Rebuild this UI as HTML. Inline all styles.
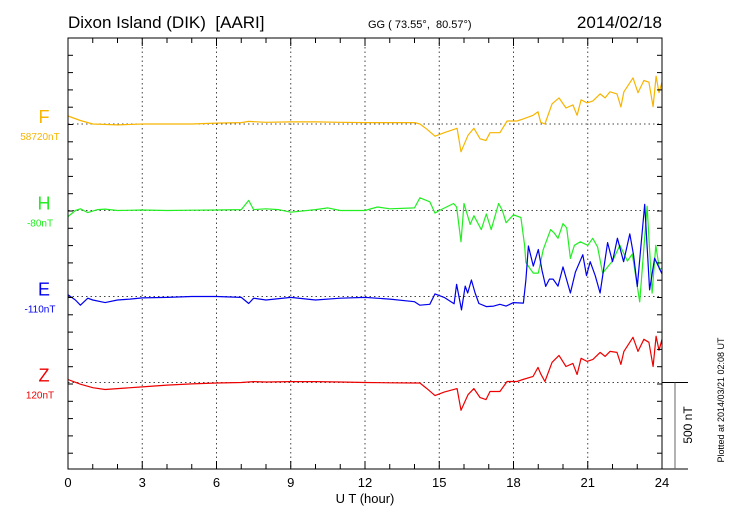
<!DOCTYPE html>
<html><head><meta charset="utf-8"><style>
body{margin:0;background:#fff;}
svg{display:block;font-family:"Liberation Sans",sans-serif;}
</style></head><body>
<svg id="chart" width="730" height="520" viewBox="0 0 730 520">
<text x="68" y="28" font-size="17" xml:space="preserve">Dixon Island (DIK)  [AARI]</text>
<text x="368" y="28" font-size="11" xml:space="preserve">GG ( 73.55°,  80.57°)</text>
<text x="662" y="28" font-size="17" text-anchor="end">2014/02/18</text>
<g id="grid"></g><g id="series"></g><g id="axes"></g>
<text x="365" y="503" font-size="13" text-anchor="middle">U T (hour)</text>
<text transform="translate(692,425) rotate(-90)" font-size="12" text-anchor="middle">500 nT</text>
<text transform="translate(724,400) rotate(-90)" font-size="9" text-anchor="middle">Plotted at 2014/03/21 02:08 UT</text>
</svg>
<script>
const NS="http://www.w3.org/2000/svg";
const hours=[0,3,6,9,12,15,18,21,24];
const compNames=["F","H","E","Z"];
const compBaseLabels=["58720nT","-80nT","-110nT","120nT"];
const compColors=["#f7b500","#22ee22","#0000ee","#ee0000"];
const baselines=[124,210.5,296.5,382.5];
const fT=[0,0.5,1,2,3,5,6,7,7.3,8,9,10,11,12,13,14,14.22,14.5,14.83,15.2,15.72,15.88,16.16,16.4,16.65,16.89,17.05,17.45,17.74,18.14,18.38,18.79,18.99,19.1,19.27,19.56,19.84,20.12,20.4,20.57,20.73,20.97,21.21,21.5,21.7,21.9,22.18,22.34,22.46,22.83,23.03,23.27,23.47,23.64,23.76,23.88,24];
const fV=[46,20,0,-5,0,0,5,8,15,10,12,12,10,8,8,8,0,-30,-70,-50,-25,-160,-65,-25,-85,-95,-50,-50,17,17,28,50,70,10,0,116,150,92,110,50,139,121,133,173,150,185,173,98,185,265,180,250,240,100,275,180,240];
const hT=[0,0.3,0.5,0.8,1.2,1.5,2,3,4,5,6,7,7.3,7.5,8,8.5,9,10,10.5,11,12,12.5,13,14,14.22,14.62,14.83,15,15.58,15.7,15.88,16,16.25,16.4,16.7,16.9,17.1,17.4,17.55,17.7,18,18.3,18.45,18.5,18.8,19,19.2,19.5,19.65,19.8,20,20.15,20.3,20.46,20.7,21,21.2,21.4,21.6,22,22.3,22.6,22.8,23.1,23.4,23.6,23.75,23.9,24];
const hV=[-35,0,10,-12,5,8,0,3,0,2,3,5,58,5,10,5,-10,5,15,0,0,20,10,15,73,50,-15,0,40,20,-180,40,-80,-30,-110,-20,-110,40,0,-70,-25,-40,-200,-300,-360,-360,-225,-110,-130,-160,-75,-100,-275,-200,-180,-200,-160,-210,-360,-290,-200,-290,-250,-525,25,-475,-200,-340,-330];
const eT=[0,0.3,0.5,0.8,1,1.5,2,2.5,3,4,5,6,7,7.3,7.5,8,9,10,11,12,13,14,14.22,14.62,14.83,15.2,15.6,15.7,15.9,16.05,16.15,16.3,16.45,16.6,16.9,17.2,17.45,17.7,18,18.4,18.5,18.6,18.8,19,19.15,19.3,19.45,19.6,19.8,20,20.3,20.5,20.8,20.95,21.1,21.3,21.5,21.8,22,22.2,22.45,22.7,22.85,23,23.3,23.5,23.7,24];
const eV=[10,-20,-50,-10,-20,-35,-20,-15,-8,-5,0,0,-5,-40,-10,-20,-5,-20,-10,-5,-15,-30,-50,-45,15,-5,-42,70,-77,60,20,95,20,-40,-58,-55,-45,-55,-35,-38,96,290,175,270,150,58,100,100,60,170,20,140,240,120,200,120,20,310,200,335,200,360,240,58,530,38,220,130];
const zT=[0,0.5,1,1.5,2,3,4,5,6,7,7.5,8,9,10,11,12,13,14,14.22,14.5,14.83,15.2,15.72,15.88,16.16,16.4,16.65,16.89,17.05,17.45,17.74,18.14,18.38,18.79,18.99,19.1,19.27,19.56,19.84,20.12,20.4,20.57,20.73,20.97,21.21,21.5,21.7,21.9,22.18,22.34,22.46,22.83,23.03,23.27,23.47,23.64,23.76,23.88,24];
const zV=[17,-10,-30,-40,-35,-25,-15,-8,-3,0,5,3,5,5,3,0,-2,-3,-3,-35,-75,-55,-35,-160,-70,-35,-87,-98,-52,-52,6,6,17,35,87,50,6,116,156,92,110,46,139,121,133,173,150,179,173,104,179,260,179,248,231,92,266,185,248];
const allT=[fT,hT,eT,zT], allV=[fV,hV,eV,zV];
const X0=68,X1=662,Y0=38,Y1=469,PXNT=87/500;
const xs=h=>X0+(X1-X0)*h/24;
const ys=(i,v)=>baselines[i]-v*PXNT;
function mk(tag,attrs,parent){const e=document.createElementNS(NS,tag);for(const k in attrs)e.setAttribute(k,attrs[k]);parent.appendChild(e);return e;}
const grid=document.getElementById('grid'),ser=document.getElementById('series'),ax=document.getElementById('axes');
hours.slice(1,-1).forEach(h=>{const l=mk('line',{x1:xs(h),x2:xs(h),y1:Y0,y2:Y1,stroke:'#444','stroke-dasharray':'1.5,3','stroke-width':1},grid);

});
baselines.forEach((b,i)=>{const l=mk('line',{x1:X0,x2:X1,y1:b,y2:b,stroke:'#444','stroke-dasharray':'1.5,3','stroke-width':1},grid);

});
allT.forEach((T,i)=>{let d=T.map((t,k)=>(k?'L':'M')+xs(t).toFixed(1)+','+ys(i,allV[i][k]).toFixed(1)).join('');
const p=mk('path',{d:d,fill:'none',stroke:compColors[i],'stroke-width':1.2,'stroke-linejoin':'round'},ser);


const t1=mk('text',{x:44,y:baselines[i]-1,'font-size':18,fill:compColors[i],'text-anchor':'middle'},ser);t1.textContent=compNames[i];


const t2=mk('text',{x:40,y:baselines[i]+16,'font-size':10,fill:compColors[i],'text-anchor':'middle'},ser);t2.textContent=compBaseLabels[i];

});
const fr=mk('rect',{x:X0,y:Y0,width:X1-X0,height:Y1-Y0,fill:'none',stroke:'#000','stroke-width':1},ax);


for(let h=0;h<=24;h++){const L=h%3===0?8:5;
mk('line',{x1:xs(h),x2:xs(h),y1:Y0,y2:Y0+L,stroke:'#000'},ax);mk('line',{x1:xs(h),x2:xs(h),y1:Y1,y2:Y1-L,stroke:'#000'},ax);}
for(let y=Y0;y<=Y1+0.5;y+=17.3){mk('line',{x1:X0,x2:X0+5,y1:y,y2:y,stroke:'#000'},ax);mk('line',{x1:X1,x2:X1-5,y1:y,y2:y,stroke:'#000'},ax);}
hours.forEach(h=>{const t=mk('text',{x:xs(h),y:487,'font-size':13,'text-anchor':'middle'},ax);t.textContent=h;

});
mk('line',{x1:X1,x2:688,y1:382.5,y2:382.5,stroke:'#000'},ax);
mk('line',{x1:X1,x2:688,y1:Y1,y2:Y1,stroke:'#000'},ax);
const sb=mk('line',{x1:675,x2:675,y1:382.5,y2:Y1,stroke:'#666'},ax);


</script>
</body></html>
